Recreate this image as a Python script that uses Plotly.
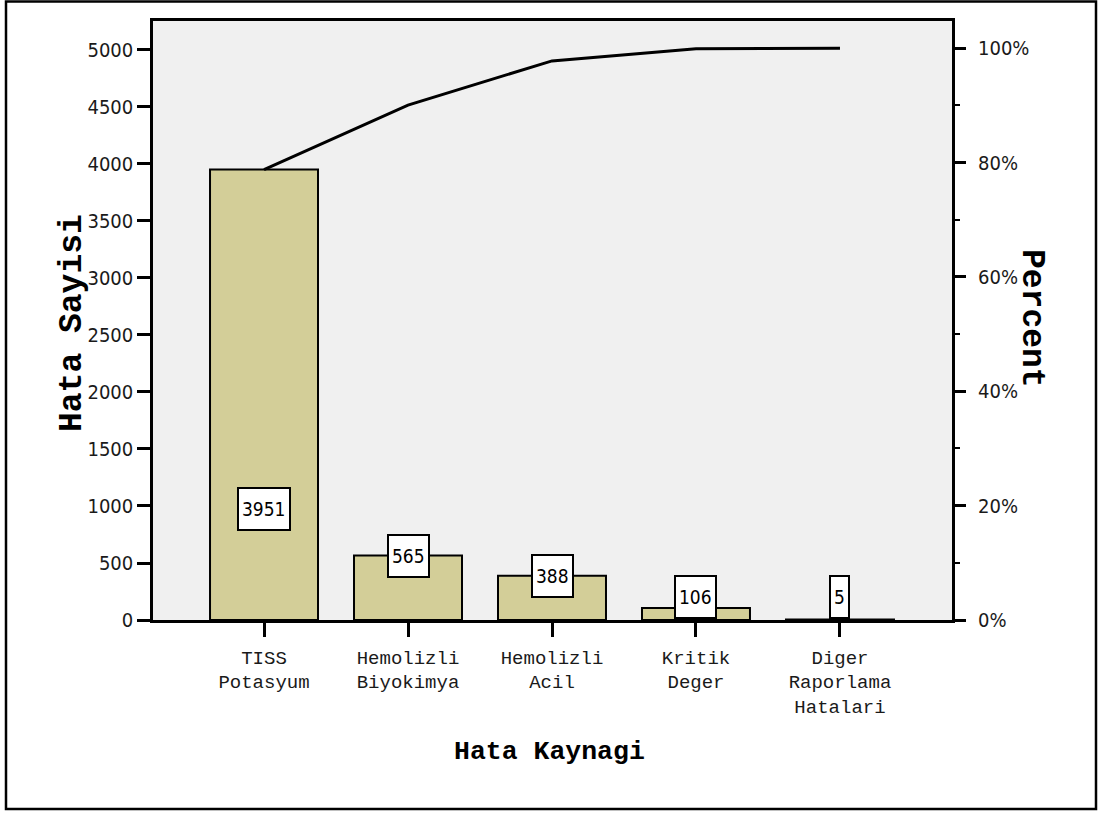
import numpy as np
import plotly.graph_objects as go

# Error sources and counts
categories = ["TISS<br>Potasyum", "Hemolizli<br>Biyokimya", "Hemolizli<br>Acil",
              "Kritik<br>Deger", "Diger<br>Raporlama<br>Hatalari"]
counts = [3951, 565, 388, 106, 5]
left_ticks = list(range(0, 5001, 500))
pct_ticks = [0, 20, 40, 60, 80, 100]
pct_labels = ["0%", "20%", "40%", "60%", "80%", "100%"]

total = sum(counts)
cumulative = np.cumsum(counts)

W, H = 1102, 814
L, R, T, B = 153, 952, 21, 620          # plot area in pixels
pw, ph = R - L, B - T
y_top = 5254                            # left axis upper limit

def px(x):
    return (x - L) / pw

def py(y):
    return (B - y) / ph

tick_font = dict(family="DejaVu Sans Condensed, DejaVu Sans Mono", size=20, color="#1a1a1a")
cat_font = dict(family="Liberation Mono", size=19, color="#1a1a1a")
title_font = dict(family="Liberation Mono", color="#000000")

fig = go.Figure()

fig.add_trace(go.Bar(
    x=categories, y=counts, width=0.75,
    marker=dict(color="#d3ce98", line=dict(color="#000000", width=2)),
    showlegend=False, hoverinfo="x+y",
))

fig.add_trace(go.Scatter(
    x=categories, y=cumulative, mode="lines",
    line=dict(color="#000000", width=3),
    showlegend=False,
))

# invisible trace to activate the percent axis
fig.add_trace(go.Scatter(
    x=categories, y=cumulative / total * 100, yaxis="y2",
    mode="lines", line=dict(width=0), opacity=0, showlegend=False, hoverinfo="skip",
))

# value labels in boxes
annotations = []
for cat, v in zip(categories, counts):
    ylab = min(max(v, 205), total * 0.195)
    annotations.append(dict(
        x=cat, y=ylab, xref="x", yref="y", text=str(v), showarrow=False,
        font=dict(family="DejaVu Sans Condensed, DejaVu Sans Mono", size=19, color="#000000"),
        bgcolor="#ffffff", bordercolor="#000000", borderwidth=2,
        borderpad=3, height=34, yanchor="middle", xanchor="center",
    ))

annotations += [
    dict(x=px(72), y=py(323), xref="paper", yref="paper", text="<b>Hata Sayisi</b>",
         textangle=-90, showarrow=False, xanchor="center", yanchor="middle",
         font=dict(size=33, **title_font)),
    dict(x=px(1032), y=py(318), xref="paper", yref="paper", text="<b>Percent</b>",
         textangle=90, showarrow=False, xanchor="center", yanchor="middle",
         font=dict(size=33, **title_font)),
    dict(x=px(549), y=py(752), xref="paper", yref="paper", text="<b>Hata Kaynagi</b>",
         showarrow=False, xanchor="center", yanchor="middle",
         font=dict(size=26.5, **title_font)),
]

shapes = [
    # outer frame
    dict(type="rect", xref="paper", yref="paper",
         x0=px(6), x1=px(1096), y0=py(809), y1=py(1.5),
         line=dict(color="#000000", width=2.5), fillcolor="rgba(0,0,0,0)", layer="above"),
]

fig.update_layout(
    width=W, height=H,
    margin=dict(l=L, r=W - R, t=T, b=H - B, pad=0),
    paper_bgcolor="#ffffff", plot_bgcolor="#f0f0f0",
    bargap=0.25,
    xaxis=dict(
        type="category", range=[-0.771, 4.778],
        showgrid=False, zeroline=False,
        showline=True, linecolor="#000000", linewidth=2.5, mirror=True,
        ticks="outside", ticklen=14, tickwidth=2.5, tickcolor="#000000",
        tickfont=cat_font, ticklabelstandoff=4,
    ),
    yaxis=dict(
        range=[0, y_top], tickvals=left_ticks,
        showgrid=False, zeroline=False,
        showline=True, linecolor="#000000", linewidth=2.5, mirror=True,
        ticks="outside", ticklen=13, tickwidth=2.5, tickcolor="#000000",
        tickfont=tick_font, ticklabelstandoff=0,
    ),
    yaxis2=dict(
        overlaying="y", side="right",
        range=[0, y_top / total * 100], tickvals=pct_ticks, ticktext=pct_labels,
        showgrid=False, zeroline=False, showline=False,
        ticks="outside", ticklen=13, tickwidth=2.5, tickcolor="#000000",
        minor=dict(dtick=10, tick0=0, ticks="outside", ticklen=7, tickwidth=2, tickcolor="#000000"),
        tickfont=tick_font, ticklabelstandoff=8,
    ),
    annotations=annotations,
    shapes=shapes,
)

fig.write_html("out.html")
